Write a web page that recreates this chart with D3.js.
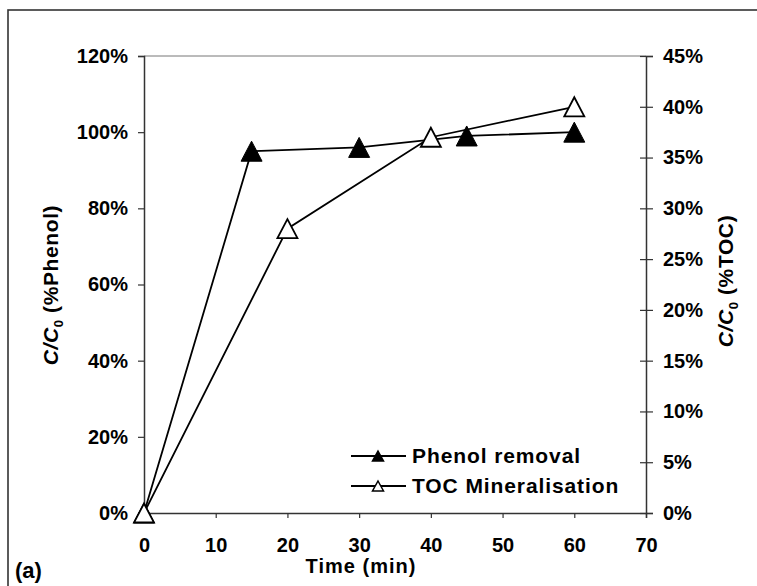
<!DOCTYPE html>
<html>
<head>
<meta charset="utf-8">
<script src="https://cdn.jsdelivr.net/npm/d3@7"></script>
<style>
  body { margin: 0; background: #fff; }
  svg { font-family: "Liberation Sans", Arial, sans-serif; font-weight: bold; }
</style>
</head>
<body>
<div id="chart"></div>
<script>
// data
const times = [0, 15, 30, 45, 60];
const phenolRemoval = [0, 0.95, 0.96, 0.99, 1.00];
const tocTimes = [0, 20, 40, 60];
const tocMineral = [0, 0.28, 0.37, 0.40];
const xTicks = [0, 10, 20, 30, 40, 50, 60, 70];
const leftTicks = [0, 0.2, 0.4, 0.6, 0.8, 1.0, 1.2];
const rightTicks = [0, 0.05, 0.1, 0.15, 0.2, 0.25, 0.3, 0.35, 0.4, 0.45];
const legendNames = ["Phenol removal", "TOC Mineralisation"];

const width = 757, height = 586;
const margin = {left: 144, right: 112, top: 56, bottom: 73};

const svg = d3.select("#chart").append("svg")
    .attr("width", width)
    .attr("height", height);

// outer frame (runs off the right and bottom)
svg.append("rect")
    .attr("x", 8).attr("y", 10)
    .attr("width", 800).attr("height", 600)
    .attr("fill", "none")
    .attr("stroke", "#333")
    .attr("stroke-width", 1.6);

const x = d3.scaleLinear().domain([0, 70]).range([margin.left, width - margin.right + 1]);
const yL = d3.scaleLinear().domain([0, 1.2]).range([height - margin.bottom, margin.top]);
const yR = d3.scaleLinear().domain([0, 0.45]).range([height - margin.bottom, margin.top]);

// top border of plot area
svg.append("line")
    .attr("x1", x(0)).attr("x2", x(70))
    .attr("y1", yL(1.2)).attr("y2", yL(1.2))
    .attr("stroke", "#777").attr("stroke-width", 1);

const pct = d3.format(".0%");

const gx = svg.append("g")
    .attr("transform", `translate(0,${yL(0)})`)
    .call(d3.axisBottom(x).tickValues(xTicks).tickSize(5).tickPadding(20));
const gl = svg.append("g")
    .attr("transform", `translate(${x(0)},0)`)
    .call(d3.axisLeft(yL).tickValues(leftTicks).tickFormat(pct).tickSize(6).tickPadding(10));
const gr = svg.append("g")
    .attr("transform", `translate(${x(70)},0)`)
    .call(d3.axisRight(yR).tickValues(rightTicks).tickFormat(pct).tickSize(7).tickPadding(10));

// right axis ticks cross the line
gr.selectAll(".tick line").attr("x1", -6);

[gx, gl, gr].forEach(g => {
    g.select(".domain").attr("stroke", "#333").attr("stroke-width", 1.5);
    g.selectAll(".tick line").attr("stroke", "#333").attr("stroke-width", 1.2);
    g.selectAll("text")
        .attr("fill", "#000")
        .style("font-size", "20px")
        .style("font-weight", "bold")
        .style("font-family", "'Liberation Sans', Arial, sans-serif");
});
gx.selectAll(".tick text").attr("dy", "0.71em");

// triangle marker, centred on its bounding box
function tri(w, h) {
    return `M0,${-h/2}L${w/2},${h/2}L${-w/2},${h/2}Z`;
}

const line = d3.line();

// phenol series (left axis)
svg.append("path")
    .attr("d", line(times.map((t, i) => [x(t), yL(phenolRemoval[i])])))
    .attr("fill", "none").attr("stroke", "#000").attr("stroke-width", 1.8);
svg.selectAll(".mk-phenol")
    .data(times.map((t, i) => [t, phenolRemoval[i]]))
    .join("path")
    .attr("class", "mk-phenol")
    .attr("d", tri(21, 20))
    .attr("transform", d => `translate(${x(d[0])},${yL(d[1])})`)
    .attr("fill", "#000").attr("stroke", "#000").attr("stroke-width", 1);

// TOC series (right axis)
svg.append("path")
    .attr("d", line(tocTimes.map((t, i) => [x(t), yR(tocMineral[i])])))
    .attr("fill", "none").attr("stroke", "#000").attr("stroke-width", 1.8);
svg.selectAll(".mk-toc")
    .data(tocTimes.map((t, i) => [t, tocMineral[i]]))
    .join("path")
    .attr("class", "mk-toc")
    .attr("d", tri(20, 19))
    .attr("transform", d => `translate(${x(d[0])},${yR(d[1])})`)
    .attr("fill", "#fff").attr("stroke", "#000").attr("stroke-width", 1.8);

// legend
const leg = svg.append("g");
legendNames.forEach((name, i) => {
    const ly = 456 + i * 30;
    leg.append("line")
        .attr("x1", 351).attr("x2", 406).attr("y1", ly).attr("y2", ly)
        .attr("stroke", "#000").attr("stroke-width", 1.8);
    leg.append("path")
        .attr("d", tri(11, 10))
        .attr("transform", `translate(378,${ly})`)
        .attr("fill", i === 0 ? "#000" : "#fff")
        .attr("stroke", "#000").attr("stroke-width", 1.5);
    leg.append("text")
        .attr("x", 412).attr("y", ly + 7)
        .style("font-size", "21px")
        .style("letter-spacing", "0.9px")
        .text(name);
});

// axis titles
svg.append("text")
    .attr("x", 361).attr("y", 573)
    .attr("text-anchor", "middle")
    .style("font-size", "20px")
    .style("letter-spacing", "1px")
    .text("Time (min)");

function yTitle(cx, cy, label) {
    const t = svg.append("text")
        .attr("transform", `translate(${cx},${cy}) rotate(-90)`)
        .attr("text-anchor", "middle")
        .style("font-size", "21px")
        .style("letter-spacing", "0.6px");
    t.append("tspan").style("font-style", "italic").text("C/C");
    t.append("tspan").attr("dy", 5).style("font-size", "13px").text("0");
    t.append("tspan").attr("dy", -5).text(" " + label);
}
yTitle(58, 285, "(%Phenol)");
yTitle(733, 281, "(%TOC)");

svg.append("text")
    .attr("x", 15).attr("y", 578)
    .style("font-size", "22px")
    .text("(a)");
</script>
</body>
</html>
